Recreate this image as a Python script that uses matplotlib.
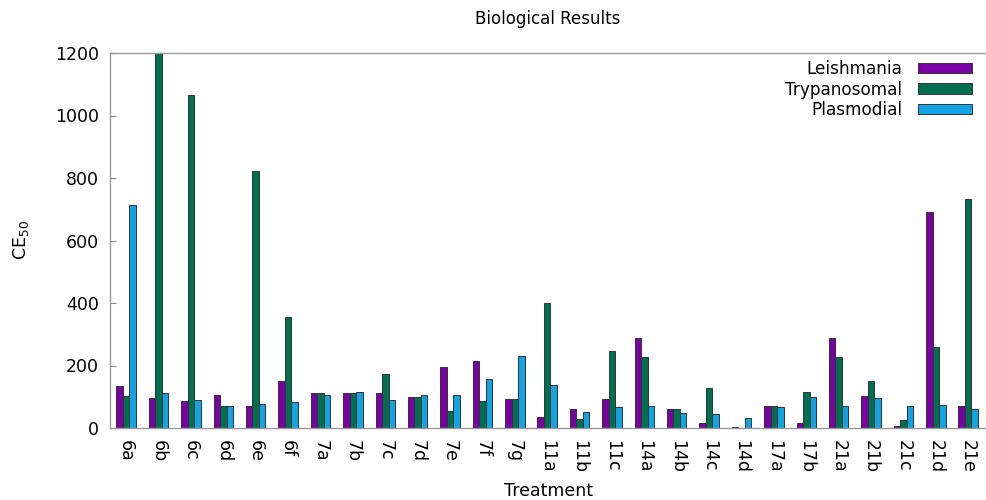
import matplotlib
matplotlib.use("Agg")
import matplotlib.pyplot as plt
import numpy as np

categories = ["6a", "6b", "6c", "6d", "6e", "6f", "7a", "7b", "7c", "7d", "7e", "7f", "7g",
              "11a", "11b", "11c", "14a", "14b", "14c", "14d", "17a", "17b",
              "21a", "21b", "21c", "21d", "21e"]
leishmania = [136, 95, 88, 107, 72, 149, 113, 113, 113, 99, 195, 213, 94,
              34, 62, 92, 287, 62, 16, 3, 71, 15, 288, 101, 7, 690, 71]
trypanosomal = [102, 1250, 1067, 72, 824, 355, 113, 113, 172, 99, 55, 87, 94,
                401, 30, 246, 226, 62, 127, 0, 71, 115, 226, 151, 25, 258, 733]
plasmodial = [715, 111, 91, 72, 77, 83, 106, 115, 91, 105, 106, 156, 229,
              139, 51, 68, 70, 48, 45, 32, 68, 98, 70, 97, 70, 75, 60]
series_names = ["Leishmania", "Trypanosomal", "Plasmodial"]
colors = ["#7b00a3", "#006f50", "#12a3e3"]
yticks = [0, 200, 400, 600, 800, 1000, 1200]

W, H = 986, 500
fig = plt.figure(figsize=(W / 100, H / 100), dpi=100)
ax = fig.add_axes([110 / W, (H - 428) / H, (W - 110) / W, 375 / H])

x = np.arange(len(categories))
bw = 0.2
for k, (vals, name, c) in enumerate(zip([leishmania, trypanosomal, plasmodial], series_names, colors)):
    ax.bar(x + (k - 1) * bw, vals, width=bw, color=c, edgecolor="#333333", linewidth=0.7,
           label=name, zorder=2)

ax.set_xlim(-0.5, len(categories) - 0.45)
ax.set_ylim(0, 1200)
ax.set_yticks(yticks)
ax.set_yticklabels([str(v) for v in yticks], fontsize=12.5)
ax.set_xticks(x)
ax.set_xticklabels(categories, rotation=-90, fontsize=12.5)
ax.tick_params(axis="y", direction="in", length=4, color="#888888", pad=8)
ax.tick_params(axis="x", length=0, pad=9)
ax.spines["right"].set_visible(False)
for side in ["left", "top", "bottom"]:
    ax.spines[side].set_color("#999999")
    ax.spines[side].set_linewidth(1.0)

ax.set_title("Biological Results", fontsize=12, pad=21)
ax.set_xlabel("Treatment", fontsize=12.5, labelpad=6)
ax.set_ylabel("CE$_{50}$", fontsize=12.5, labelpad=17)

leg = ax.legend(loc="upper right", bbox_to_anchor=(972 / W, 1 - 60 / H),
                bbox_transform=fig.transFigure, frameon=False, fontsize=12.2,
                markerfirst=False, handlelength=3.2, handleheight=0.6,
                handletextpad=0.9, labelspacing=0.15, borderpad=0, borderaxespad=0)
for t in leg.get_texts():
    t.set_ha("right")

fig.savefig("out.png", dpi=100)
